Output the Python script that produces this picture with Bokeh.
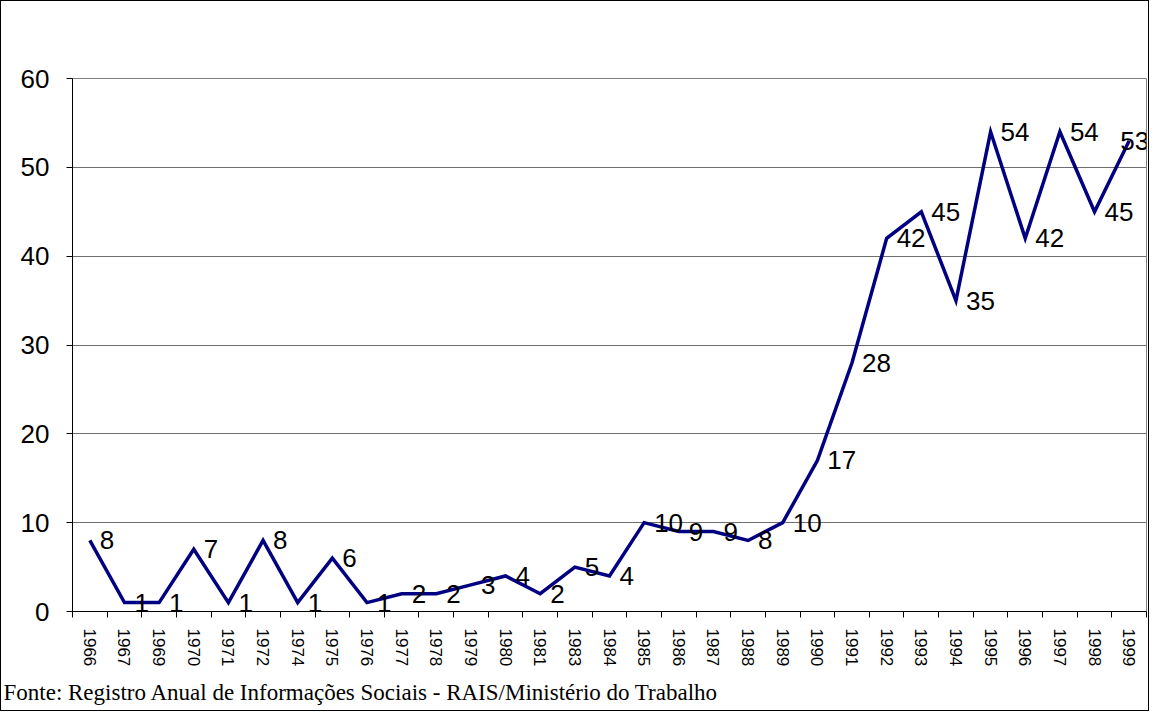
import math
from bokeh.plotting import figure
from bokeh.models import (Range1d, FixedTicker, ColumnDataSource, LabelSet, Label, Title)
from bokeh.core.properties import value
from bokeh.embed import file_html
from bokeh.resources import INLINE

years = ["1966", "1967", "1969", "1970", "1971", "1972", "1974", "1975", "1976", "1977",
         "1978", "1979", "1980", "1981", "1983", "1984", "1985", "1986", "1987", "1988",
         "1989", "1990", "1991", "1992", "1993", "1994", "1995", "1996", "1997", "1998", "1999"]
values = [8, 1, 1, 7, 1, 8, 1, 6, 1, 2, 2, 3, 4, 2, 5, 4, 10, 9, 9, 8, 10, 17, 28, 42, 45,
          35, 54, 42, 54, 45, 53]
y_ticks = [0, 10, 20, 30, 40, 50, 60]
source_text = "Fonte: Registro Anual de Informações Sociais - RAIS/Ministério do Trabalho"

n = len(years)
xs = list(range(n))

p = figure(width=1149, height=711, output_backend="svg", toolbar_location=None,
           x_range=Range1d(-0.5, n - 0.5), y_range=Range1d(0, 60),
           min_border_left=71, min_border_right=4, min_border_top=77, min_border_bottom=99)
p.styles = {"border": "1px solid black", "box-sizing": "border-box"}
p.background_fill_color = "white"
p.border_fill_color = "white"
p.outline_line_color = "#808080"
p.outline_line_width = 1

src = ColumnDataSource(dict(x=xs, y=values))
p.line("x", "y", source=src, line_color="#000080", line_width=3.5, line_join="miter")

lab_src = ColumnDataSource(dict(x=xs[:-1], y=values[:-1], lbl=[str(v) for v in values[:-1]]))
labels = LabelSet(x="x", y="y", text="lbl", source=lab_src, x_offset=10, y_offset=0,
                  text_baseline="middle", text_align="left",
                  text_font=value("Liberation Sans"), text_font_size="26px", text_color="black")
p.add_layout(labels)
last = Label(x=xs[-1], y=values[-1], text=str(values[-1]), x_offset=-9, y_offset=0,
             text_baseline="middle", text_align="left",
             text_font="Liberation Sans", text_font_size="26px", text_color="black")
p.add_layout(last)

# X axis: labels at category centres, tick marks at category boundaries
p.xaxis.ticker = FixedTicker(ticks=xs, minor_ticks=[i - 0.5 for i in range(n + 1)])
p.xaxis.major_label_overrides = {i: y for i, y in enumerate(years)}
p.xaxis.major_label_orientation = -math.pi / 2
p.xaxis.major_tick_in = 0
p.xaxis.major_tick_out = 0
p.xaxis.minor_tick_in = 0
p.xaxis.minor_tick_out = 6
p.xaxis.minor_tick_line_color = "black"
p.xaxis.axis_line_color = "black"
p.xaxis.major_label_text_font = "Liberation Sans"
p.xaxis.major_label_text_font_size = "17px"
p.xaxis.major_label_text_color = "black"
p.xaxis.major_label_standoff = 11
p.xgrid.visible = False

p.yaxis.ticker = FixedTicker(ticks=y_ticks, minor_ticks=[])
p.yaxis.major_tick_in = 0
p.yaxis.major_tick_out = 6
p.yaxis.major_tick_line_color = "black"
p.yaxis.axis_line_color = "black"
p.yaxis.major_label_text_font = "Liberation Sans"
p.yaxis.major_label_text_font_size = "26px"
p.yaxis.major_label_text_color = "black"
p.yaxis.major_label_standoff = 17
p.ygrid.grid_line_color = "#6e6e6e"
p.ygrid.grid_line_width = 1

t = Title(text=source_text, align="left", text_font="Liberation Serif",
          text_font_size="23px", text_font_style="normal", text_color="black",
          offset=-69, standoff=16, text_line_height=1.0, padding=0)
p.add_layout(t, "below")

open("out.html", "w").write(file_html(p, INLINE))
